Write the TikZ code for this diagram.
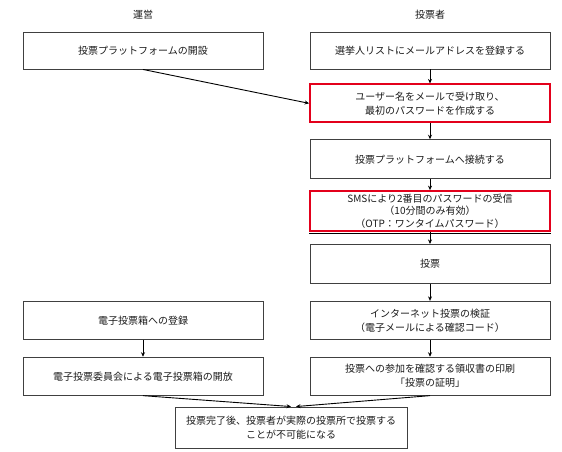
\documentclass[tikz,border=0pt]{standalone}
\usepackage{fontspec}
\setmainfont{Noto Sans CJK JP}
\usepackage{xcolor}
\usepackage{tikz}
\usetikzlibrary{
  arrows.meta,
  positioning,
  calc
}
\definecolor{evLine}{HTML}{404040}
\definecolor{evRed}{HTML}{E3001B}
\definecolor{evText}{HTML}{1A1A1A}
\tikzset{
  evnode/.style={
    draw=evLine, line width=0.9pt, minimum width=240pt, minimum height=38pt,
    font=\fontsize{10}{14}\selectfont, text=evText, align=center, inner sep=2pt
  },
  evkey/.style={evnode, draw=evRed, line width=1.8pt},
  evhead/.style={font=\fontsize{10}{12}\selectfont, text=evText},
  evflow/.style={-{Stealth[length=4.5pt,width=4pt]}, line width=0.9pt, black}
}

\begin{document}
\begin{tikzpicture}[node distance=14pt]
  \useasboundingbox (0,0) rectangle (562pt,-452pt);
  \node[evhead] (hdop) at (143pt,-15pt) {運営};
  \node[evhead] (hdvt) at (430pt,-15pt) {投票者};
  % voter column
  \node[evnode, minimum height=37pt] (reg) at (430pt,-50.5pt) {選挙人リストにメールアドレスを登録する};
  \node[evkey, below=14pt of reg] (user) {ユーザー名をメールで受け取り、\\最初のパスワードを作成する};
  \node[evnode, minimum height=39pt, below=16pt of user] (conn) {投票プラットフォームへ接続する};
  \node[evkey, minimum height=40pt, inner sep=1pt, below=11pt of conn,
    font=\fontsize{10}{12.5}\selectfont] (sms)
   {SMSにより2番目のパスワードの受信\\（10分間のみ有効）\\（OTP：ワンタイムパスワード）};
  \node[evnode, minimum height=39pt, below=12pt of sms] (vote) {投票};
  \node[evnode, below=17pt of vote] (check) {インターネット投票の検証\\（電子メールによる確認コード）};
  \node[evnode, below=17pt of check] (print) {投票への参加を確認する領収書の印刷\\「投票の証明」};
  % operator column
  \node[evnode, minimum height=37pt] (open) at (143pt,-50.5pt) {投票プラットフォームの開設};
  \node[evnode] (box) at (check -| open) {電子投票箱への登録};
  \node[evnode] (unseal) at (print -| open) {電子投票委員会による電子投票箱の開放};
  \node[evnode, minimum width=232pt, minimum height=41pt] (done) at (291pt,-427.5pt)
   {投票完了後、投票者が実際の投票所で投票する\\ことが不可能になる};
  \draw[black, line width=0.6pt] ([yshift=-1.6pt]sms.south west) -- ([yshift=-1.6pt]sms.south east);
  \draw[evflow] (reg) -- (user);
  \draw[evflow] (user) -- (conn);
  \draw[evflow] (conn) -- (sms);
  \draw[evflow] (sms) -- (vote);
  \draw[evflow] (vote) -- (check);
  \draw[evflow] (check) -- (print);
  \draw[evflow] (open.south) -- (user.west);
  \draw[evflow] (box) -- (unseal);
  \draw[evflow] (unseal.south) -- ([xshift=0pt]done.north);
  \draw[evflow] (print.south) -- ([xshift=5pt]done.north);
\end{tikzpicture}
\end{document}
